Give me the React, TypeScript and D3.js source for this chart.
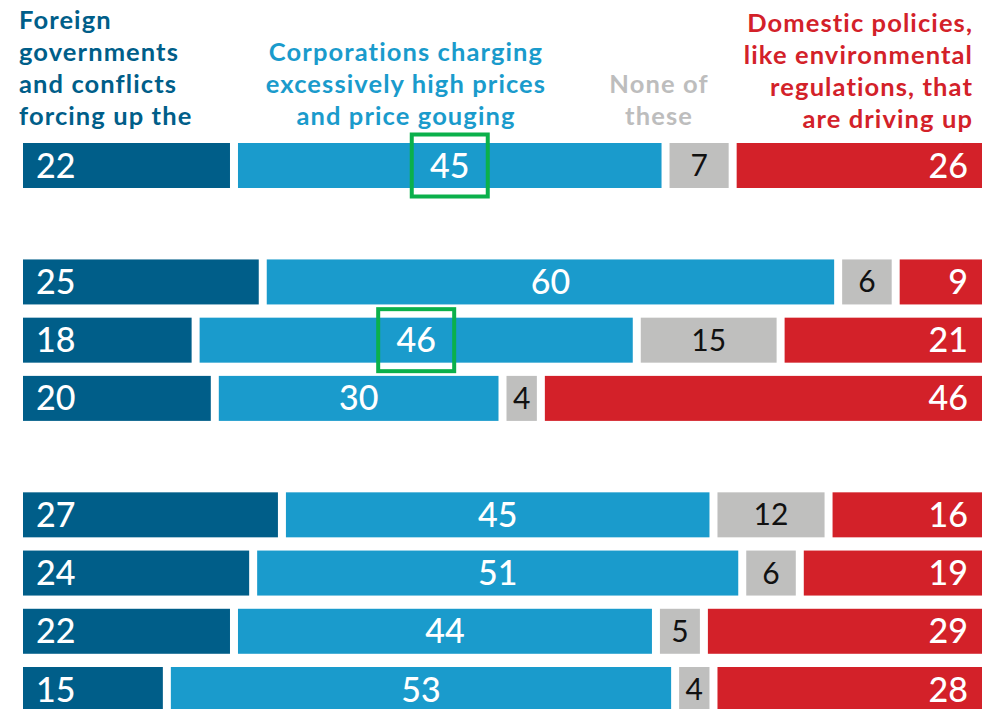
import React from "react";
import * as d3 from "d3";

const seriesNames = ["Foreign", "Corporations", "None", "Domestic"];
const foreign = [22, 25, 18, 20, 27, 24, 22, 15];
const corporations = [45, 60, 46, 30, 45, 51, 44, 53];
const noneOfThese = [7, 6, 15, 4, 12, 6, 5, 4];
const domestic = [26, 9, 21, 46, 16, 19, 29, 28];
const rowSlots = [0, 2, 3, 4, 6, 7, 8, 9];
const highlighted = [
  { row: 0, series: 1 },
  { row: 2, series: 1 },
];

const headerForeign = ["Foreign", "governments", "and conflicts", "forcing up the"];
const headerCorp = ["Corporations charging", "excessively high prices", "and price gouging"];
const headerNone = ["None of", "these"];
const headerDomestic = ["Domestic policies,", "like environmental", "regulations, that", "are driving up"];

const colors = ["#005e89", "#1a9bcc", "#bfbfbe", "#d32129"];
const FONT = "Lato, 'Open Sans', sans-serif";

export default function App() {
  const W = 1002;
  const H = 709;
  const x = d3.scaleLinear().domain([0, 100]).range([23, 982]);
  const y = d3.scaleLinear().domain([0, 9]).range([143, 667]);
  const barH = 45;
  const half = 4;

  const rows = foreign.map((_, i) => [foreign[i], corporations[i], noneOfThese[i], domestic[i]]);

  return (
    <svg
      width={W}
      height={H}
      style={{ position: "absolute", left: 0, top: 0, background: "#fff" }}
      fontFamily={FONT}
    >
      {rows.map((vals, r) => {
        const top = y(rowSlots[r]);
        const cy = top + barH / 2;
        let cum = 0;
        return (
          <g key={r}>
            {vals.map((v, s) => {
              const x0 = x(cum) + (s > 0 ? half : 0);
              const x1 = x(cum + v) - (s < vals.length - 1 ? half : 0);
              cum += v;
              let tx = (x0 + x1) / 2;
              let anchor: "start" | "middle" | "end" = "middle";
              if (s === 0) {
                tx = x0 + 13;
                anchor = "start";
              } else if (s === 3) {
                tx = x1 - 14;
                anchor = "end";
              }
              const isGray = s === 2;
              return (
                <g key={seriesNames[s]}>
                  <rect x={x0} y={top} width={Math.max(0, x1 - x0)} height={barH} fill={colors[s]} />
                  <text
                    x={tx}
                    y={cy + (isGray ? 10.5 : 12)}
                    textAnchor={anchor}
                    fill={isGray ? "#111" : "#fff"}
                    fontSize={isGray ? 30 : 34}
                    fontWeight={isGray ? 400 : 500}
                  >
                    {v}
                  </text>
                </g>
              );
            })}
          </g>
        );
      })}

      {highlighted.map((h, i) => {
        const vals = rows[h.row];
        const before = d3.sum(vals.slice(0, h.series));
        const cx = (x(before) + x(before + vals[h.series])) / 2;
        const cy = y(rowSlots[h.row]) + barH / 2;
        return (
          <rect
            key={i}
            x={cx - 38}
            y={cy - 31}
            width={76}
            height={62}
            fill="none"
            stroke="#0bb04b"
            strokeWidth={4}
          />
        );
      })}

      <g fontSize={25.5} fontWeight={700} letterSpacing={1.1}>
        <g fill={colors[0]}>
          {headerForeign.map((t, i) => (
            <text key={i} x={19} y={29 + i * 32}>
              {t}
            </text>
          ))}
        </g>
        <g fill={colors[1]} textAnchor="middle">
          {headerCorp.map((t, i) => (
            <text key={i} x={406} y={61 + i * 32}>
              {t}
            </text>
          ))}
        </g>
        <g fill="#bdbdbd" textAnchor="middle">
          {headerNone.map((t, i) => (
            <text key={i} x={659} y={93 + i * 32}>
              {t}
            </text>
          ))}
        </g>
        <g fill={colors[3]} textAnchor="end">
          {headerDomestic.map((t, i) => (
            <text key={i} x={973} y={32 + i * 32}>
              {t}
            </text>
          ))}
        </g>
      </g>
    </svg>
  );
}
